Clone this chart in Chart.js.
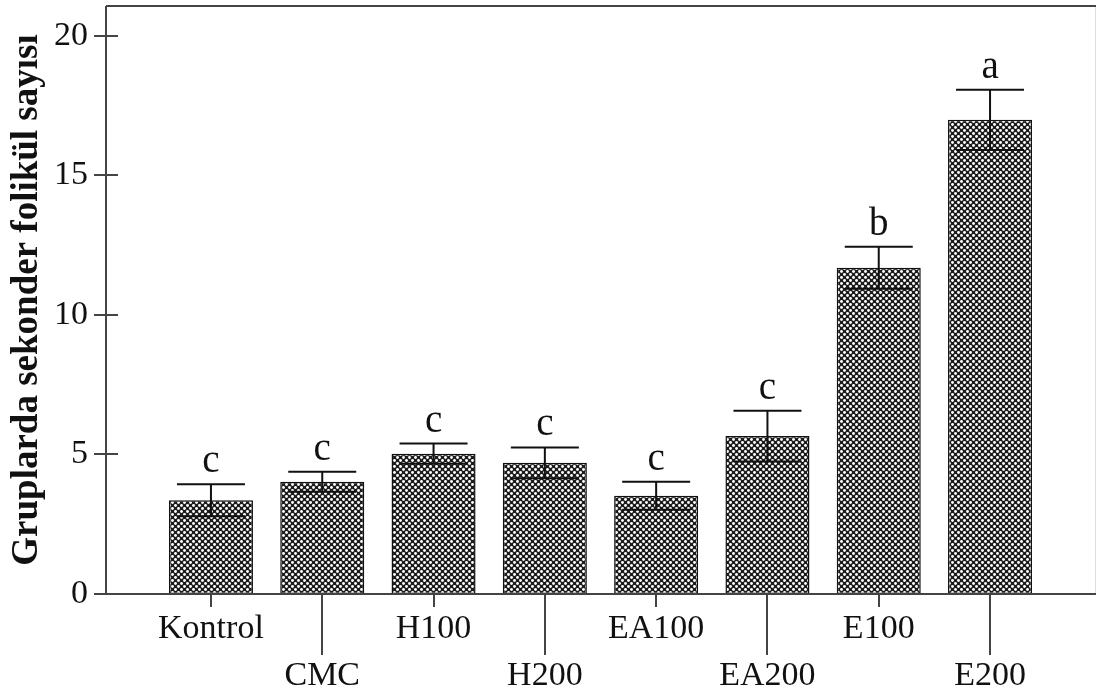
<!DOCTYPE html>
<html>
<head>
<meta charset="utf-8">
<script src="https://cdn.jsdelivr.net/npm/chart.js@4/dist/chart.umd.min.js"></script>
<style>
  html, body { margin: 0; padding: 0; background: #fff; }
  #wrap { width: 1097px; height: 697px; }
</style>
</head>
<body>
<div id="wrap"><canvas id="grafico" width="1097" height="697"></canvas></div>
<script>
// datos
const categories = ['Kontrol', 'CMC', 'H100', 'H200', 'EA100', 'EA200', 'E100', 'E200'];
const means = [3.36, 4.02, 5.03, 4.70, 3.52, 5.66, 11.69, 16.99];
const errors = [0.57, 0.36, 0.36, 0.55, 0.50, 0.91, 0.75, 1.08];
const letters = ['c', 'c', 'c', 'c', 'c', 'c', 'b', 'a'];
const yTicks = [0, 5, 10, 15, 20];

const axisColor = '#444';
const serif = "'Liberation Serif', 'Times New Roman', serif";

// trama cuadriculada de las barras
function makePattern() {
  const c = document.createElement('canvas');
  c.width = 6; c.height = 6;
  const g = c.getContext('2d');
  g.fillStyle = '#1c1c1c';
  g.fillRect(0, 0, 6, 6);
  g.fillStyle = '#ffffff';
  [[1.5, 1.5], [4.5, 4.5]].forEach(p => {
    g.beginPath();
    g.arc(p[0], p[1], 1.45, 0, Math.PI * 2);
    g.fill();
  });
  return document.getElementById('grafico').getContext('2d').createPattern(c, 'repeat');
}

// sin relleno extra alrededor de los ejes
function noPadding(scale) {
  scale.paddingLeft = 0;
  scale.paddingRight = 0;
  scale.paddingTop = 0;
  scale.paddingBottom = 0;
}

// barras de error y letras
const errorBars = {
  id: 'errorBars',
  afterDatasetsDraw(chart) {
    const ctx = chart.ctx;
    const x = chart.scales.x, y = chart.scales.y;
    ctx.save();
    ctx.strokeStyle = '#111';
    ctx.lineWidth = 2;
    means.forEach((m, i) => {
      const px = x.getPixelForValue(i);
      const top = y.getPixelForValue(m + errors[i]);
      const bot = y.getPixelForValue(m - errors[i]);
      ctx.beginPath();
      ctx.moveTo(px, top); ctx.lineTo(px, bot);
      ctx.moveTo(px - 34, top); ctx.lineTo(px + 34, top);
      ctx.moveTo(px - 34, bot); ctx.lineTo(px + 34, bot);
      ctx.stroke();
      ctx.fillStyle = '#111';
      ctx.font = '39px ' + serif;
      ctx.textAlign = 'center';
      ctx.textBaseline = 'alphabetic';
      ctx.fillText(letters[i], px, top - 12);
    });
    ctx.restore();
  }
};

// marco y marcas de los ejes
const frame = {
  id: 'frame',
  afterDraw(chart) {
    const ctx = chart.ctx;
    const a = chart.chartArea;
    const x = chart.scales.x, y = chart.scales.y;
    ctx.save();
    ctx.strokeStyle = '#ddd';
    ctx.lineWidth = 1;
    ctx.beginPath();
    ctx.moveTo(a.right - 0.5, a.top); ctx.lineTo(a.right - 0.5, a.bottom);
    ctx.stroke();
    ctx.strokeStyle = axisColor;
    ctx.lineWidth = 2;
    ctx.beginPath();
    ctx.moveTo(a.left, a.top); ctx.lineTo(a.right, a.top);
    ctx.moveTo(a.left, a.top); ctx.lineTo(a.left, a.bottom);
    ctx.moveTo(a.left - 1, a.bottom); ctx.lineTo(a.right, a.bottom);
    yTicks.forEach(v => {
      const py = Math.round(y.getPixelForValue(v));
      ctx.moveTo(a.left - 12, py); ctx.lineTo(a.left + 12, py);
    });
    categories.forEach((c, i) => {
      const px = Math.round(x.getPixelForValue(i));
      ctx.moveTo(px, a.bottom); ctx.lineTo(px, a.bottom + (i % 2 ? 61 : 13));
    });
    ctx.stroke();
    ctx.restore();
  }
};

new Chart(document.getElementById('grafico'), {
  type: 'bar',
  data: {
    datasets: [{
      data: means.map((m, i) => ({ x: i, y: m })),
      backgroundColor: makePattern(),
      borderColor: '#111',
      borderWidth: 1.5,
      borderSkipped: false,
      barPercentage: 0.755,
      categoryPercentage: 1
    }]
  },
  options: {
    responsive: false,
    animation: false,
    devicePixelRatio: 1,
    layout: { padding: { top: 6, right: 1, left: 0, bottom: 0 } },
    plugins: { legend: { display: false }, tooltip: { enabled: false } },
    scales: {
      x: {
        type: 'linear',
        offset: false,
        min: -0.943,
        max: 7.952,
        grid: { display: false, drawTicks: false },
        border: { display: false },
        afterBuildTicks(scale) { scale.ticks = categories.map((c, i) => ({ value: i })); },
        afterFit(scale) { scale.height = 103; noPadding(scale); },
        ticks: {
          autoSkip: false,
          maxRotation: 0,
          padding: 11,
          color: '#111',
          font: { family: serif, size: 34, lineHeight: 1.4 },
          callback: (v) => (v % 2 ? ['', categories[v]] : categories[v])
        }
      },
      y: {
        min: 0,
        max: 21.07,
        grid: { display: false, drawTicks: false },
        border: { display: false },
        afterBuildTicks(scale) { scale.ticks = yTicks.map(v => ({ value: v })); },
        afterFit(scale) { scale.width = 106; noPadding(scale); },
        ticks: {
          padding: 18,
          color: '#111',
          font: { family: serif, size: 34 }
        },
        title: {
          display: true,
          text: 'Gruplarda sekonder folikül sayısı',
          color: '#111',
          font: { family: serif, size: 37, weight: 'bold', lineHeight: 1.2 },
          padding: { top: 5, bottom: 0 }
        }
      }
    }
  },
  plugins: [errorBars, frame]
});
</script>
</body>
</html>
